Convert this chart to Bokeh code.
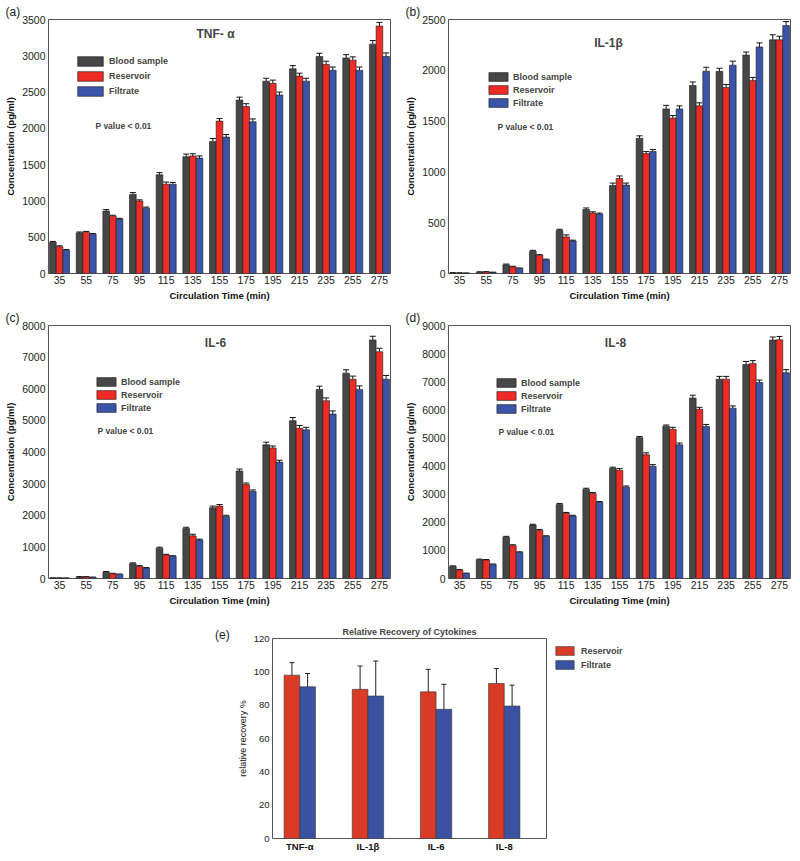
from bokeh.plotting import figure
from bokeh.models import (ColumnDataSource, Whisker, TeeHead, Legend, LegendItem,
                          Label, FixedTicker, Range1d, Div)
from bokeh.layouts import column, row
from bokeh.embed import file_html
from bokeh.resources import INLINE

# ---------------- data ----------------
times = [35, 55, 75, 95, 115, 135, 155, 175, 195, 215, 235, 255, 275]
series_names = ["Blood sample", "Reservoir", "Filtrate"]

tnf_blood = [430, 560, 860, 1090, 1360, 1610, 1820, 2390, 2650, 2820, 2990, 2970, 3160]
tnf_res = [370, 570, 790, 1000, 1230, 1620, 2100, 2300, 2620, 2720, 2880, 2940, 3410]
tnf_filt = [320, 540, 750, 900, 1230, 1590, 1880, 2090, 2460, 2650, 2800, 2800, 2990]
tnf_blood_err = [12, 12, 20, 25, 30, 35, 40, 40, 40, 45, 45, 45, 50]
tnf_res_err = [12, 10, 12, 15, 30, 30, 35, 40, 45, 40, 45, 45, 50]
tnf_filt_err = [10, 10, 10, 15, 25, 30, 35, 40, 40, 40, 45, 45, 50]

il1b_blood = [5, 12, 85, 220, 425, 630, 865, 1330, 1620, 1850, 1990, 2150, 2300]
il1b_res = [5, 15, 65, 180, 360, 595, 935, 1180, 1530, 1650, 1830, 1900, 2300]
il1b_filt = [3, 10, 50, 135, 320, 585, 870, 1200, 1620, 1990, 2050, 2230, 2440]
il1b_blood_err = [3, 5, 8, 8, 10, 15, 25, 25, 35, 35, 30, 30, 50]
il1b_res_err = [2, 3, 6, 6, 20, 12, 25, 20, 25, 30, 30, 30, 35]
il1b_filt_err = [2, 3, 4, 6, 8, 10, 20, 20, 30, 40, 40, 40, 40]

il6_blood = [15, 50, 200, 470, 960, 1580, 2240, 3400, 4230, 4990, 5980, 6490, 7540]
il6_res = [15, 50, 150, 380, 740, 1350, 2290, 2970, 4130, 4750, 5620, 6300, 7170]
il6_filt = [10, 35, 130, 330, 700, 1220, 1960, 2750, 3680, 4700, 5200, 5980, 6300]
il6_blood_err = [5, 10, 20, 25, 30, 40, 50, 60, 80, 100, 100, 110, 120]
il6_res_err = [5, 10, 15, 25, 25, 50, 50, 50, 60, 90, 90, 100, 110]
il6_filt_err = [5, 8, 10, 15, 20, 25, 40, 50, 60, 80, 100, 110, 120]

il8_blood = [430, 670, 1470, 1900, 2630, 3170, 3920, 5010, 5420, 6420, 7090, 7610, 8480]
il8_res = [300, 660, 1170, 1710, 2320, 3020, 3850, 4400, 5310, 6020, 7090, 7650, 8490]
il8_filt = [180, 500, 930, 1500, 2220, 2710, 3250, 3990, 4760, 5410, 6060, 6970, 7320]
il8_blood_err = [20, 20, 30, 30, 40, 40, 40, 40, 40, 100, 100, 110, 110]
il8_res_err = [15, 15, 30, 30, 30, 40, 60, 70, 70, 70, 100, 100, 120]
il8_filt_err = [10, 15, 20, 20, 30, 30, 40, 60, 60, 70, 80, 90, 110]

cytokines = ["TNF-α", "IL-1β", "IL-6", "IL-8"]
recovery_names = ["Reservoir", "Filtrate"]
rec_res = [98, 89.5, 88, 93]
rec_res_err = [7.5, 14, 13.5, 9]
rec_filt = [91, 85.5, 77.5, 79.5]
rec_filt_err = [8, 21, 15, 12.5]

# ---------------- style ----------------
FONT = "Liberation Sans"
COLORS = ["#474747", "#ee2b24", "#3a54a8"]
REC_COLORS = ["#d93b26", "#3b52a3"]
OUTLINE = "#555555"


def style_axes(p, tick_size="10.5px", label_size="9.5px", label_style="bold"):
    p.xgrid.visible = False
    p.ygrid.visible = False
    p.outline_line_color = OUTLINE
    p.outline_line_width = 1
    p.background_fill_color = "white"
    p.border_fill_color = "white"
    for ax in (p.xaxis[0], p.yaxis[0]):
        ax.axis_line_color = None
        ax.major_tick_line_color = None
        ax.minor_tick_line_color = None
        ax.major_tick_out = 0
        ax.major_tick_in = 0
        ax.minor_tick_out = 0
        ax.minor_tick_in = 0
        ax.major_label_text_font = FONT
        ax.major_label_text_font_size = tick_size
        ax.major_label_text_color = "#222222"
        ax.axis_label_text_font = FONT
        ax.axis_label_text_font_size = label_size
        ax.axis_label_text_font_style = label_style
        ax.axis_label_text_color = "#111111"
        ax.major_label_standoff = 3
        ax.axis_label_standoff = 3
    p.xaxis[0].major_label_standoff = 2


def panel(tag, title, values, errors, ymax, ystep, xlabel, height,
          top, bottom, leg, title_xy, p_xy):
    step = times[1] - times[0]
    pad = 0.415 * step
    p = figure(width=400, height=height, output_backend="svg", toolbar_location=None,
               x_range=Range1d(times[0] - pad, times[-1] + pad),
               y_range=Range1d(0, ymax),
               min_border_left=48, min_border_right=10,
               min_border_top=top, min_border_bottom=bottom, title=tag)
    p.title.align = "left"
    p.title.offset = -43
    p.title.standoff = 1
    p.title.text_font = FONT
    p.title.text_font_size = "12px"
    p.title.text_font_style = "normal"
    p.title.text_color = "#222222"
    bw = 0.25 * step
    offsets = [-bw, 0, bw]
    items = []
    for name, vals, errs, off, col in zip(series_names, values, errors, offsets, COLORS):
        xs = [t + off for t in times]
        src = ColumnDataSource(dict(x=xs, top=vals,
                                    upper=[v + e for v, e in zip(vals, errs)]))
        r = p.vbar(x="x", top="top", width=bw, source=src, fill_color=col,
                   line_color="#1a1a1a", line_width=0.6)
        w = Whisker(base="x", upper="upper", lower="top", source=src,
                    upper_head=TeeHead(size=6, line_color="#111111", line_width=1),
                    lower_head=None, line_color="#111111", line_width=1)
        p.add_layout(w)
        items.append(LegendItem(label=name, renderers=[r]))
    p.xaxis.ticker = FixedTicker(ticks=times)
    p.yaxis.ticker = FixedTicker(ticks=list(range(0, ymax + 1, ystep)))
    p.xaxis.axis_label = xlabel
    p.yaxis.axis_label = "Concentration (pg/ml)"
    style_axes(p)

    gw, gh, sp, lx, ly = leg
    legend = Legend(items=items, location=(lx, ly), glyph_width=gw, glyph_height=gh,
                    label_height=gh, spacing=sp, padding=0, margin=0,
                    border_line_color=None, background_fill_alpha=0,
                    label_text_font=FONT, label_text_font_style="bold",
                    label_text_font_size="9px", label_standoff=3)
    p.add_layout(legend)

    p.add_layout(Label(x=title_xy[0], y=title_xy[1], x_units="screen", y_units="screen",
                       text=title, text_font=FONT, text_font_style="bold",
                       text_font_size="12px", text_align="center", text_baseline="middle"))
    p.add_layout(Label(x=p_xy[0], y=p_xy[1], x_units="screen", y_units="screen",
                       text="P value < 0.01", text_font=FONT, text_font_style="bold",
                       text_font_size="8.5px", text_align="left", text_baseline="middle"))
    return p


pa = panel("(a)", "TNF- α", [tnf_blood, tnf_res, tnf_filt],
           [tnf_blood_err, tnf_res_err, tnf_filt_err], 3500, 500,
           "Circulation Time (min)", 305, 19, 32,
           (32, 12, 3, 26, 176), (167, 240), (47, 148))
pb = panel("(b)", "IL-1β", [il1b_blood, il1b_res, il1b_filt],
           [il1b_blood_err, il1b_res_err, il1b_filt_err], 2500, 500,
           "Circulation Time (min)", 305, 19, 32,
           (24, 11, 2, 38, 165), (160, 231), (49, 147))
pc = panel("(c)", "IL-6", [il6_blood, il6_res, il6_filt],
           [il6_blood_err, il6_res_err, il6_filt_err], 8000, 1000,
           "Circulation Time (min)", 305, 20, 32,
           (24, 11, 2, 46, 165), (167, 236), (49, 148))
pd_ = panel("(d)", "IL-8", [il8_blood, il8_res, il8_filt],
            [il8_blood_err, il8_res_err, il8_filt_err], 9000, 1000,
            "Circulating Time (min)", 305, 20, 32,
            (24, 11, 2, 46, 164), (167, 236), (50, 147))

# ---------------- panel (e) ----------------
idx = list(range(len(cytokines)))
pe = figure(frame_width=274, frame_height=200, output_backend="svg", toolbar_location=None,
            x_range=Range1d(-0.4, len(cytokines) - 1 + 0.62), y_range=Range1d(0, 120),
            min_border_left=33, min_border_right=0, min_border_top=28, min_border_bottom=15,
            title="Relative Recovery of Cytokines")
ebw = 0.23
e_items = []
for name, vals, errs, off, col in zip(recovery_names, [rec_res, rec_filt],
                                      [rec_res_err, rec_filt_err], [-ebw / 2, ebw / 2], REC_COLORS):
    src = ColumnDataSource(dict(x=[i + off for i in idx], top=vals,
                                upper=[v + e for v, e in zip(vals, errs)],
                                lower=[v - e for v, e in zip(vals, errs)]))
    r = pe.vbar(x="x", top="top", width=ebw, source=src, fill_color=col,
                line_color="#333333", line_width=0.6)
    pe.add_layout(Whisker(base="x", upper="upper", lower="lower", source=src,
                          upper_head=TeeHead(size=5, line_color="#222222", line_width=1),
                          lower_head=TeeHead(size=5, line_color="#222222", line_width=1),
                          line_color="#222222", line_width=1))
    e_items.append(LegendItem(label=name, renderers=[r]))
pe.xaxis.ticker = FixedTicker(ticks=idx)
pe.xaxis.major_label_overrides = {i: c for i, c in zip(idx, cytokines)}
pe.yaxis.ticker = FixedTicker(ticks=list(range(0, 121, 20)))
pe.yaxis.axis_label = "relative recovery %"
style_axes(pe, tick_size="9.5px", label_size="9px", label_style="normal")
pe.xaxis.major_label_text_font_style = "bold"
pe.xaxis.major_label_text_color = "#111111"
pe.xaxis.major_label_standoff = 2
pe.title.align = "center"
pe.title.text_font = FONT
pe.title.text_font_size = "9px"
pe.title.text_font_style = "bold"
pe.title.standoff = 4
e_legend = Legend(items=e_items, location="top_left", glyph_width=23, glyph_height=11,
                  label_height=11, spacing=3, padding=0, margin=7,
                  border_line_color=None, background_fill_alpha=0,
                  label_text_font=FONT, label_text_font_style="bold",
                  label_text_font_size="9px", label_standoff=5)
pe.add_layout(e_legend, "right")

tag_e = Div(text='<div style="padding-left:215px;padding-top:17px;white-space:nowrap;'
                 'font-family:\'Liberation Sans\';font-size:12px;color:#222222;">(e)</div>',
            width=234, height=243, margin=0)

layout = column(row(pa, pb), row(pc, pd_), row(tag_e, pe))

open("out.html", "w").write(file_html(layout, INLINE))
